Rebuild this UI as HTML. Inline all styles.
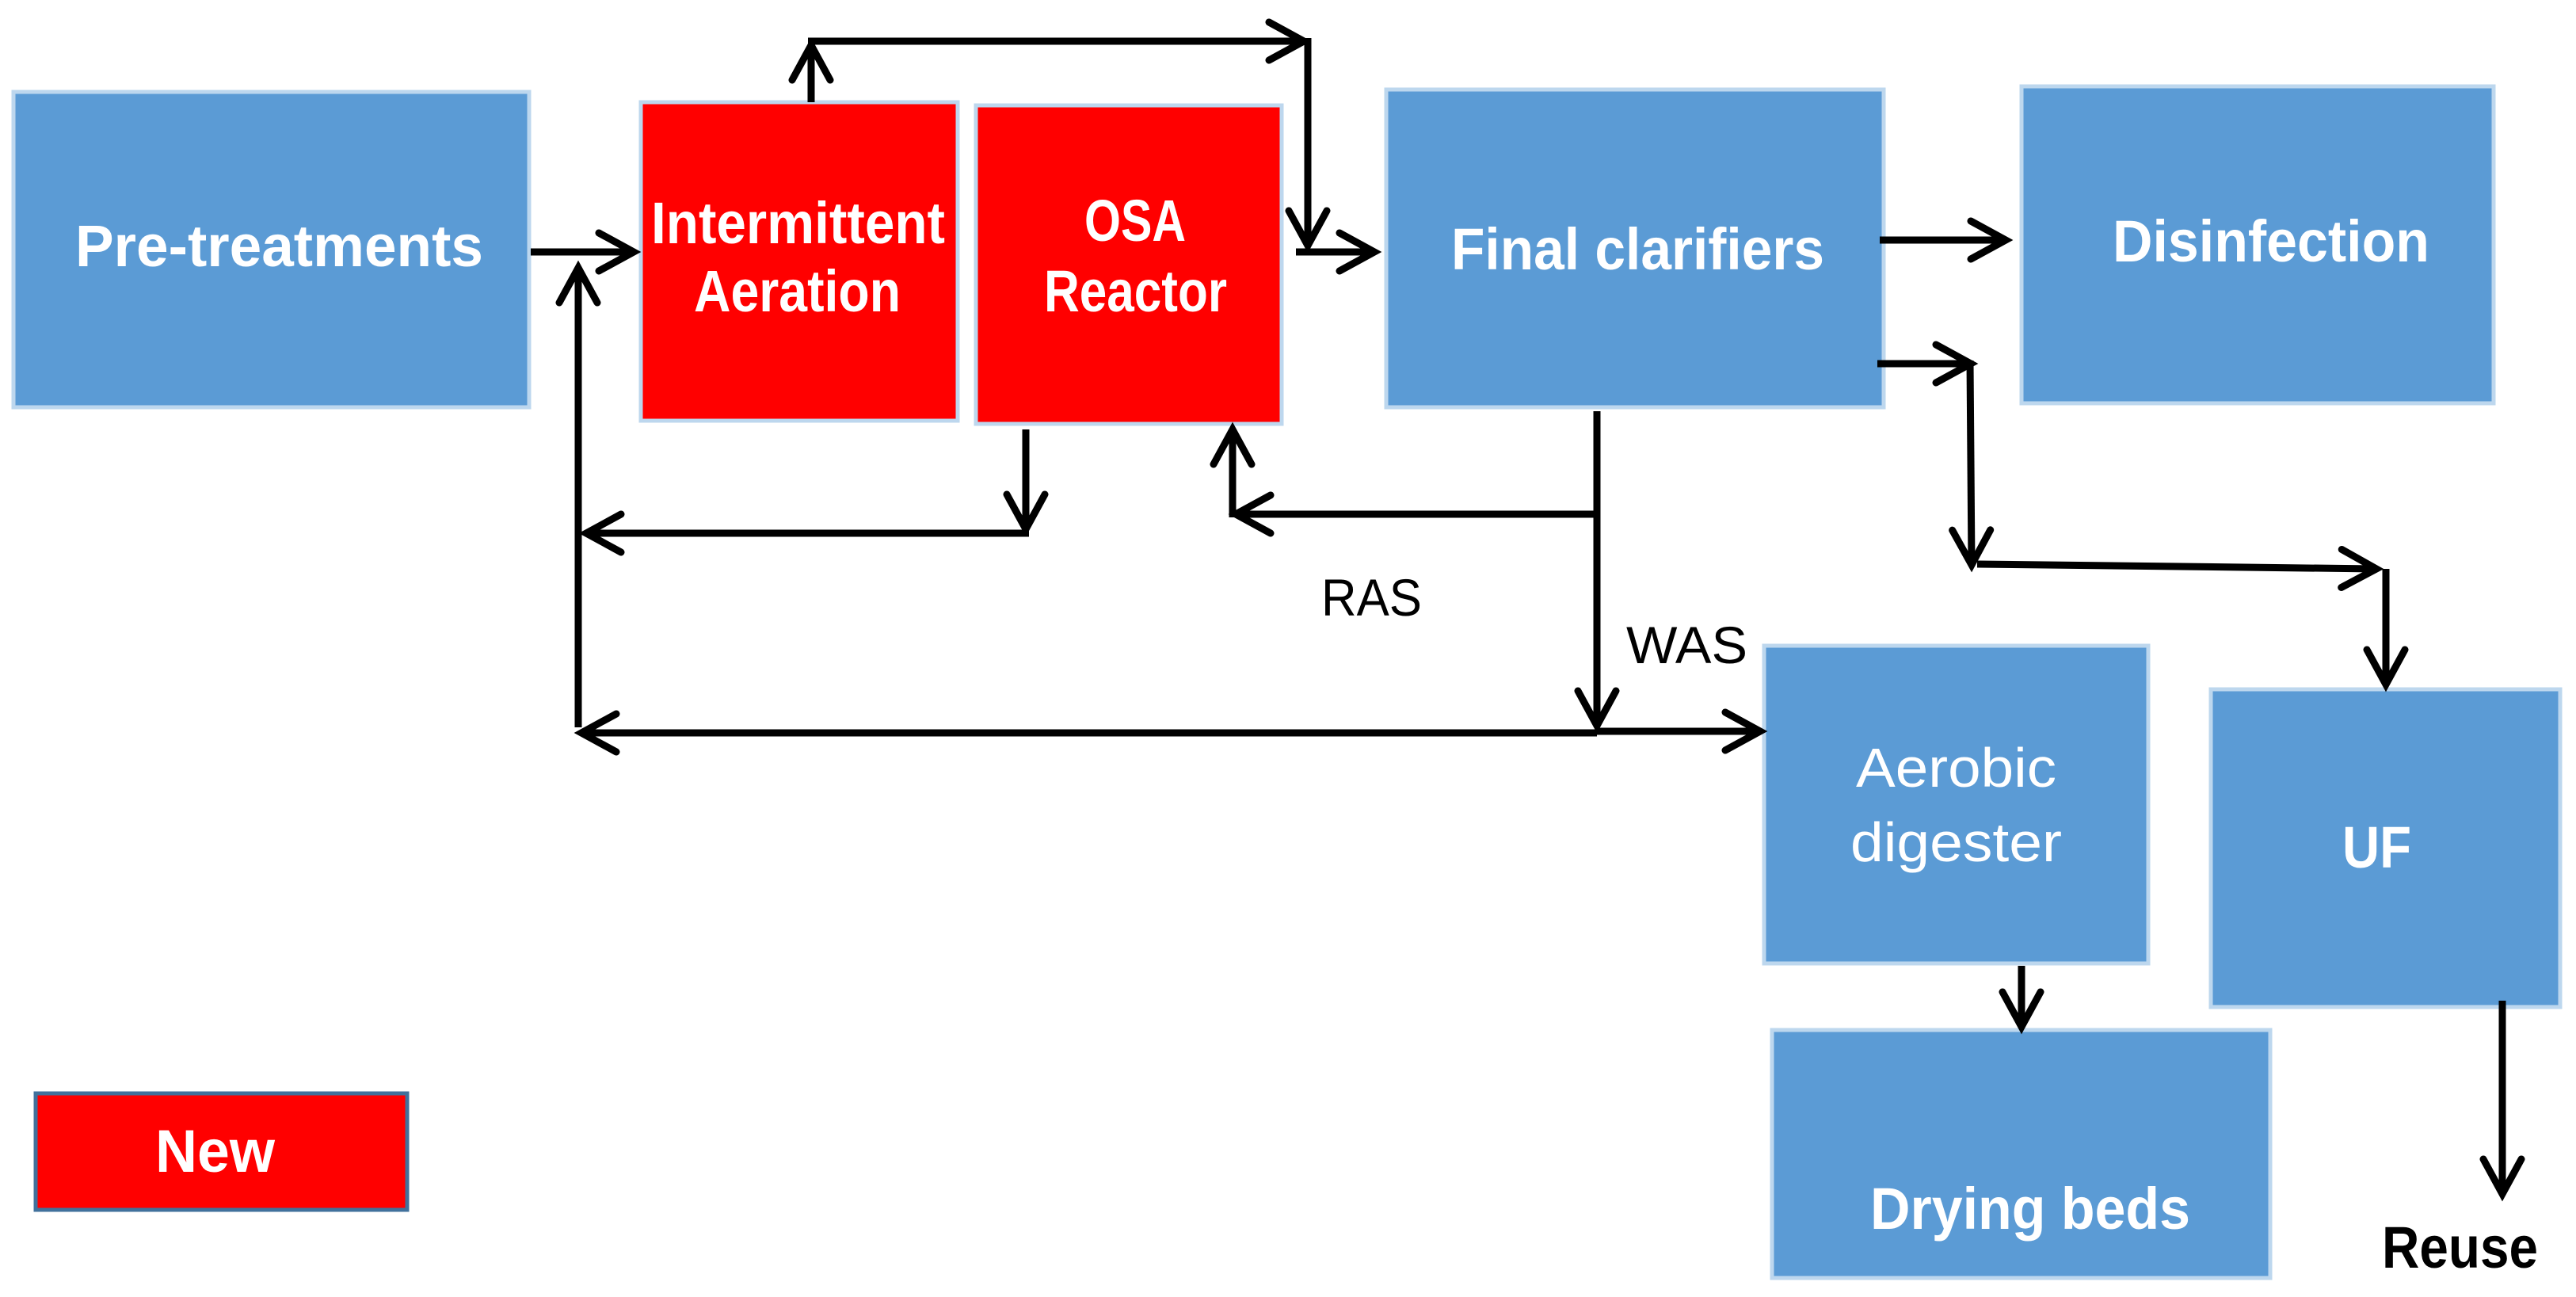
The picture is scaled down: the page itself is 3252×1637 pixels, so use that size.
<!DOCTYPE html>
<html><head><meta charset="utf-8"><style>html,body{margin:0;padding:0;background:#fff}svg{display:block}</style></head>
<body>
<svg width="3252" height="1637" viewBox="0 0 3252 1637" xmlns="http://www.w3.org/2000/svg">
<defs>
<marker id="a" viewBox="-50 -30 60 60" refX="0" refY="0" markerWidth="60" markerHeight="60" markerUnits="userSpaceOnUse" orient="auto">
<path d="M-44,-24 L0,0 L-44,24" fill="none" stroke="#000" stroke-width="9" stroke-linecap="round"/>
</marker>
</defs>
<g stroke="#bdd7ee" stroke-width="5" fill="#5b9bd5">
<rect x="17" y="116" width="651" height="398"/>
<rect x="1750" y="113" width="628" height="401"/>
<rect x="2552" y="109" width="596" height="400"/>
<rect x="2227" y="815" width="485" height="401"/>
<rect x="2791" y="870" width="441" height="401"/>
<rect x="2237" y="1300" width="629" height="313"/>
</g>
<g stroke="#bdd7ee" stroke-width="5" fill="#ff0000">
<rect x="809" y="129" width="400" height="402"/>
<rect x="1232" y="133" width="386" height="402"/>
</g>
<rect x="45" y="1380" width="469" height="147" fill="#ff0000" stroke="#41719c" stroke-width="5"/>
<g font-family="Liberation Sans, sans-serif" font-weight="bold" fill="#fff" font-size="74">
<text x="95" y="336" textLength="515" lengthAdjust="spacingAndGlyphs">Pre-treatments</text>
<text x="822" y="307" textLength="371" lengthAdjust="spacingAndGlyphs">Intermittent</text>
<text x="876" y="393" textLength="261" lengthAdjust="spacingAndGlyphs">Aeration</text>
<text x="1369" y="304" textLength="128" lengthAdjust="spacingAndGlyphs">OSA</text>
<text x="1318" y="393" textLength="231" lengthAdjust="spacingAndGlyphs">Reactor</text>
<text x="1832" y="340" textLength="471" lengthAdjust="spacingAndGlyphs">Final clarifiers</text>
<text x="2667" y="330" textLength="400" lengthAdjust="spacingAndGlyphs">Disinfection</text>
<text x="2957" y="1095" textLength="87" lengthAdjust="spacingAndGlyphs">UF</text>
<text x="2361" y="1551" textLength="404" lengthAdjust="spacingAndGlyphs">Drying beds</text>
<text x="196" y="1479" textLength="151" lengthAdjust="spacingAndGlyphs" font-size="76">New</text>
<text x="3007" y="1600" textLength="197" lengthAdjust="spacingAndGlyphs" fill="#000">Reuse</text>
</g>
<g font-family="Liberation Sans, sans-serif" font-size="70" fill="#fff">
<text x="2343" y="993" textLength="253" lengthAdjust="spacingAndGlyphs">Aerobic</text>
<text x="2336" y="1087" textLength="267" lengthAdjust="spacingAndGlyphs">digester</text>
</g>
<g font-family="Liberation Sans, sans-serif" font-size="66" fill="#000">
<text x="1668" y="777" textLength="127" lengthAdjust="spacingAndGlyphs">RAS</text>
<text x="2053" y="837" textLength="153" lengthAdjust="spacingAndGlyphs">WAS</text>
</g>
<g stroke="#000" stroke-width="9" fill="none" stroke-linecap="butt">
<line x1="670" y1="318" x2="800" y2="318" marker-end="url(#a)"/>
<line x1="730" y1="918" x2="730" y2="338" marker-end="url(#a)"/>
<line x1="1024" y1="129" x2="1024" y2="57" marker-end="url(#a)"/>
<line x1="1020" y1="52" x2="1646" y2="52" marker-end="url(#a)"/>
<line x1="1651" y1="48" x2="1651" y2="310" marker-end="url(#a)"/>
<line x1="1636" y1="318" x2="1735" y2="318" marker-end="url(#a)"/>
<line x1="1295" y1="542" x2="1295" y2="668" marker-end="url(#a)"/>
<line x1="1299" y1="673" x2="740" y2="673" marker-end="url(#a)"/>
<line x1="2016" y1="519" x2="2016" y2="916" marker-end="url(#a)"/>
<line x1="2016" y1="649" x2="1560" y2="649" marker-end="url(#a)"/>
<line x1="1556" y1="653" x2="1556" y2="542" marker-end="url(#a)"/>
<line x1="2016" y1="925" x2="734" y2="925" marker-end="url(#a)"/>
<line x1="2016" y1="923" x2="2222" y2="923" marker-end="url(#a)"/>
<line x1="2373" y1="303" x2="2532" y2="303" marker-end="url(#a)"/>
<line x1="2370" y1="459" x2="2488" y2="459" marker-end="url(#a)"/>
<line x1="2487" y1="455" x2="2489" y2="713" marker-end="url(#a)"/>
<line x1="2496" y1="712" x2="3000" y2="718" marker-end="url(#a)"/>
<line x1="3012" y1="718" x2="3012" y2="864" marker-end="url(#a)"/>
<line x1="2552" y1="1219" x2="2552" y2="1296" marker-end="url(#a)"/>
<line x1="3159" y1="1263" x2="3159" y2="1507" marker-end="url(#a)"/>
</g>
</svg>
</body></html>
